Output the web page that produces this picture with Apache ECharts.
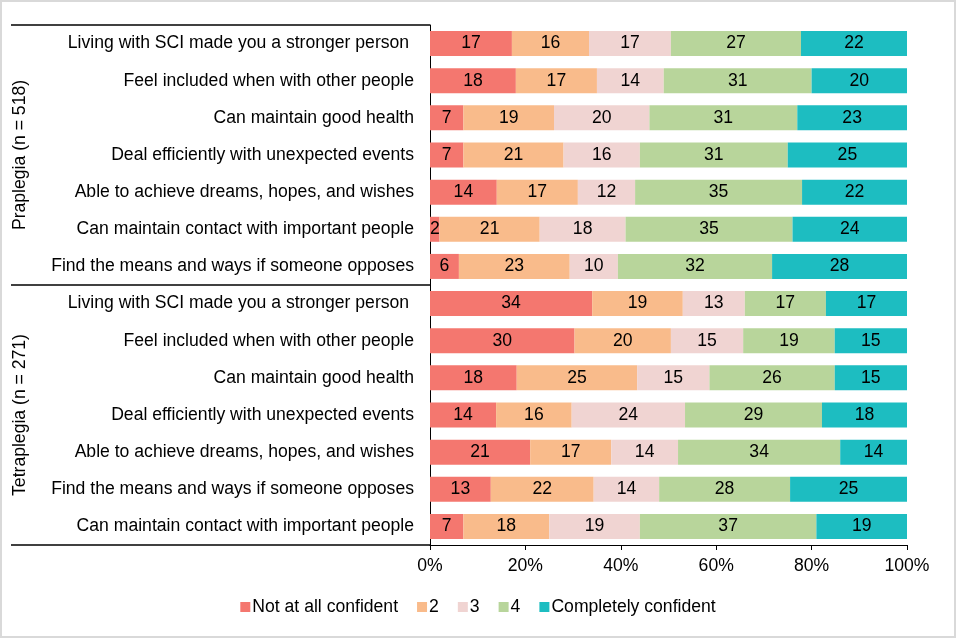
<!DOCTYPE html>
<html>
<head>
<meta charset="utf-8">
<script src="https://cdn.jsdelivr.net/npm/echarts@6/dist/echarts.min.js"></script>
<style>
html,body{margin:0;padding:0;background:#fff;}
#wrap{position:absolute;left:0;top:0;width:952px;height:634px;border:2px solid #d9d9d9;}
#chart{width:952px;height:634px;}
</style>
</head>
<body>
<div id="wrap"><div id="chart"></div></div>
<script>
const categories = [
  "Living with SCI made you a stronger person ",
  "Feel included when with other people",
  "Can maintain good health",
  "Deal efficiently with unexpected events",
  "Able to achieve dreams, hopes, and wishes",
  "Can maintain contact with important people",
  "Find the means and ways if someone opposes",
  "Living with SCI made you a stronger person ",
  "Feel included when with other people",
  "Can maintain good health",
  "Deal efficiently with unexpected events",
  "Able to achieve dreams, hopes, and wishes",
  "Find the means and ways if someone opposes",
  "Can maintain contact with important people"
];
const groups = ["Praplegia (n = 518)", "Tetraplegia (n = 271)"];
const seriesNames = ["Not at all confident", "2", "3", "4", "Completely confident"];
const notAtAll   = [17, 18, 7, 7, 14, 2, 6, 34, 30, 18, 14, 21, 13, 7];
const level2     = [16, 17, 19, 21, 17, 21, 23, 19, 20, 25, 16, 17, 22, 18];
const level3     = [17, 14, 20, 16, 12, 18, 10, 13, 15, 15, 24, 14, 14, 19];
const level4     = [27, 31, 31, 31, 35, 35, 32, 17, 19, 26, 29, 34, 28, 37];
const completely = [22, 20, 23, 25, 22, 24, 28, 17, 15, 15, 18, 14, 25, 19];
const xTicks = ["0%", "20%", "40%", "60%", "80%", "100%"];

const colors = ["#F4776F", "#F9BB8B", "#F0D4D2", "#B8D59B", "#1DBDC1"];
const raw = [notAtAll, level2, level3, level4, completely];
const totals = categories.map((_, i) => raw.reduce((s, arr) => s + arr[i], 0));

const W = 952, H = 634;
const gridLeft = 428, gridRight = 47, gridTop = 23, gridBottom = H - 543;
const rowH = (543 - 23) / categories.length;
const lineLeft = 9;
const FS = 17.6;

const chart = echarts.init(document.getElementById('chart'), null, {renderer: 'canvas', width: W, height: H});
const font = 'Liberation Sans, Arial, sans-serif';

const series = raw.map((arr, k) => ({
  name: seriesNames[k],
  type: 'bar',
  stack: 'total',
  barWidth: 25,
  itemStyle: {color: colors[k]},
  label: {
    show: true,
    position: 'inside',
    color: '#000',
    fontFamily: font,
    fontSize: FS,
    formatter: p => String(arr[p.dataIndex])
  },
  emphasis: {disabled: true},
  data: arr.map((v, i) => v / totals[i] * 100)
}));

const groupCenters = [gridTop + rowH * 3.5, gridTop + rowH * 10.5];

chart.setOption({
  animation: false,
  color: colors,
  grid: {left: gridLeft, right: gridRight, top: gridTop, bottom: gridBottom, containLabel: false},
  xAxis: {
    type: 'value',
    min: 0, max: 100, interval: 20,
    axisLine: {show: true, lineStyle: {color: '#000', width: 1}},
    axisTick: {show: true, length: 5, lineStyle: {color: '#000'}},
    splitLine: {show: false},
    axisLabel: {
      margin: 12,
      color: '#000', fontFamily: font, fontSize: FS,
      formatter: v => xTicks[Math.round(v / 20)]
    }
  },
  yAxis: {
    type: 'category',
    inverse: true,
    data: categories.map((_, i) => String(i)),
    axisLine: {show: true, lineStyle: {color: '#000', width: 1}},
    axisTick: {show: false},
    axisLabel: {
      margin: 16,
      color: '#000', fontFamily: font, fontSize: FS,
      formatter: v => categories[+v]
    }
  },
  legend: {
    bottom: 15,
    left: 'center',
    icon: 'rect',
    itemWidth: 10, itemHeight: 10,
    itemGap: 19,
    textStyle: {color: '#000', fontFamily: font, fontSize: FS, padding: [0, 0, 0, -3]},
    data: seriesNames
  },
  graphic: [
    {type: 'line', shape: {x1: lineLeft, y1: gridTop, x2: gridLeft, y2: gridTop}, style: {stroke: '#000', lineWidth: 1.5}},
    {type: 'line', shape: {x1: lineLeft, y1: gridTop + rowH * 7, x2: gridLeft, y2: gridTop + rowH * 7}, style: {stroke: '#000', lineWidth: 1.5}},
    {type: 'line', shape: {x1: lineLeft, y1: 543, x2: gridLeft, y2: 543}, style: {stroke: '#000', lineWidth: 1.5}},
    {type: 'text', x: 18, y: groupCenters[0], rotation: Math.PI / 2,
      style: {text: groups[0], fill: '#000', font: FS + 'px ' + font, align: 'center', verticalAlign: 'middle'}},
    {type: 'text', x: 18, y: groupCenters[1], rotation: Math.PI / 2,
      style: {text: groups[1], fill: '#000', font: FS + 'px ' + font, align: 'center', verticalAlign: 'middle'}}
  ],
  series: series
});
</script>
</body>
</html>
